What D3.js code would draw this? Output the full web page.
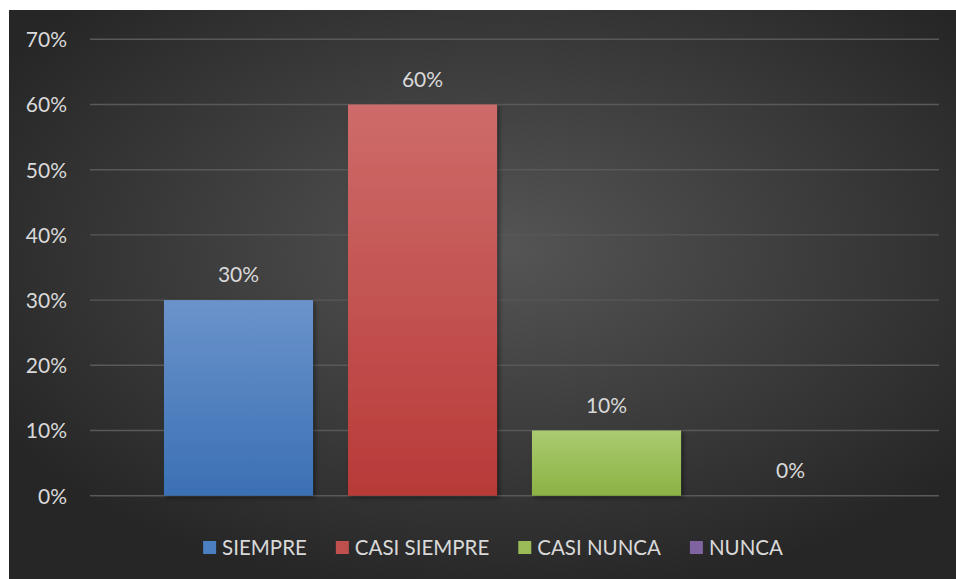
<!DOCTYPE html>
<html>
<head>
<meta charset="utf-8">
<script src="https://cdn.jsdelivr.net/npm/d3@7"></script>
<style>
  html, body { margin: 0; padding: 0; background: #ffffff; }
  svg { display: block; }
  text { font-family: Lato, "Open Sans", sans-serif; fill: #d9d9d9; }
</style>
</head>
<body>
<svg id="chart" width="956" height="579"></svg>
<script>
// Survey response shares
const series = ["SIEMPRE", "CASI SIEMPRE", "CASI NUNCA", "NUNCA"];
const values = [0.30, 0.60, 0.10, 0.00];
const yTicks = [0, 0.1, 0.2, 0.3, 0.4, 0.5, 0.6, 0.7];
const colorsTop = ["#6b93cb", "#cd6c6a", "#abcb70", "#9a80b8"];
const colorsBottom = ["#3a70b4", "#b83a38", "#8bb244", "#7557a0"];
const legendColors = ["#4a7fc1", "#c0504d", "#9bbb59", "#8064a2"];

const svg = d3.select("#chart");
const W = 956, H = 579;
const defs = svg.append("defs");

// Panel background: soft radial light in the middle fading to dark edges
const bg = defs.append("radialGradient").attr("id", "bgGrad")
  .attr("cx", "52%").attr("cy", "42%").attr("r", "62%");
bg.append("stop").attr("offset", "0%").attr("stop-color", "#555555");
bg.append("stop").attr("offset", "100%").attr("stop-color", "#262626");

series.forEach((s, i) => {
  const g = defs.append("linearGradient").attr("id", "barGrad" + i)
    .attr("x1", 0).attr("y1", 0).attr("x2", 0).attr("y2", 1);
  g.append("stop").attr("offset", "0%").attr("stop-color", colorsTop[i]);
  g.append("stop").attr("offset", "100%").attr("stop-color", colorsBottom[i]);
});

const shadow = defs.append("filter").attr("id", "shadow")
  .attr("x", "-10%").attr("y", "-10%").attr("width", "130%").attr("height", "130%");
shadow.append("feDropShadow").attr("dx", 2).attr("dy", 2).attr("stdDeviation", 2.5)
  .attr("flood-color", "#000").attr("flood-opacity", 0.45);

svg.append("rect").attr("x", 9).attr("y", 10).attr("width", W - 9).attr("height", H - 10)
  .attr("fill", "url(#bgGrad)");

const plot = { left: 90, right: 939, top: 39.3, bottom: 495.7 };

const y = d3.scaleLinear().domain([0, 0.7]).range([plot.bottom, plot.top]);
const x = d3.scaleBand().domain(series).range([plot.left, plot.right])
  .paddingInner(0.19).paddingOuter(0.402);

// Gridlines
svg.append("g").selectAll("line").data(yTicks).join("line")
  .attr("x1", plot.left).attr("x2", plot.right)
  .attr("y1", d => y(d)).attr("y2", d => y(d))
  .attr("stroke", "#595959").attr("stroke-width", 1.4);

// Y axis labels
const yAxis = d3.axisLeft(y).tickValues(yTicks).tickFormat(d3.format(".0%")).tickSize(0).tickPadding(0);
const ya = svg.append("g").attr("transform", `translate(67,0)`).call(yAxis);
ya.select(".domain").remove();
ya.selectAll("text").attr("font-size", 21).attr("fill", "#d9d9d9")
  .attr("font-family", "Lato, sans-serif").attr("dy", "0.35em");

// Bars
svg.append("g").selectAll("rect").data(series).join("rect")
  .attr("x", d => x(d))
  .attr("width", x.bandwidth())
  .attr("y", (d, i) => y(values[i]))
  .attr("height", (d, i) => y(0) - y(values[i]))
  .attr("fill", (d, i) => `url(#barGrad${i})`)
  .attr("filter", "url(#shadow)");

// Value labels
svg.append("g").selectAll("text").data(series).join("text")
  .attr("x", d => x(d) + x.bandwidth() / 2)
  .attr("y", (d, i) => y(values[i]) - 18)
  .attr("text-anchor", "middle").attr("font-size", 21)
  .text((d, i) => d3.format(".0%")(values[i]));

// Legend
const legend = svg.append("g");
const items = legend.selectAll("g").data(series).join("g");
items.append("rect").attr("width", 13).attr("height", 13).attr("y", -14)
  .attr("fill", (d, i) => legendColors[i]);
items.append("text").attr("x", 19).attr("font-size", 20.5).text(d => d);
let cx = 0;
const offsets = [];
items.each(function () {
  offsets.push(cx);
  const w = 19 + d3.select(this).select("text").node().getComputedTextLength();
  cx += w + 29;
});
const totalW = cx - 29;
const startX = 493 - totalW / 2;
items.attr("transform", (d, i) => `translate(${startX + offsets[i]},555)`);
</script>
</body>
</html>
